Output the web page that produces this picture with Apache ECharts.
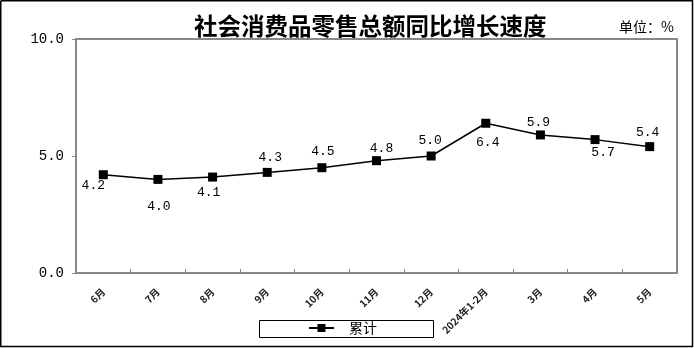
<!DOCTYPE html>
<html><head><meta charset="utf-8">
<script src="https://cdn.jsdelivr.net/npm/echarts@6/dist/echarts.min.js"></script>
<style>html,body{margin:0;padding:0;background:#fff}#c{width:694px;height:348px}</style>
</head><body><div id="c"></div>
<script>
var categories = ['6月','7月','8月','9月','10月','11月','12月','2024年1-2月','3月','4月','5月'];
var values = [4.2, 4.0, 4.1, 4.3, 4.5, 4.8, 5.0, 6.4, 5.9, 5.7, 5.4];
var yTicks = [0, 5, 10];
var seriesName = '累计';
var titleText = '社会消费品零售总额同比增长速度';
var unitText = '单位：%';
// label offsets (style only)
var labelOffsets = [[-10,11],[1,27],[-4,16],[3,-15],[1,-16],[5,-12],[-1,-15],[2,19],[-2,-12],[8,13],[-2,-14]];

var chart = echarts.init(document.getElementById('c'), null, {renderer:'canvas'});
var numFont = '"Liberation Mono", "DejaVu Sans Mono", monospace';
chart.setOption({
  backgroundColor:'#fff',
  animation:false,
  title:{text:titleText,left:189,top:9,textStyle:{fontFamily:'"Noto Sans CJK SC"',fontSize:23.5,fontWeight:'bold',color:'#000'}},
  graphic:[
    {type:'polyline',shape:{points:[[0.75,0.75],[692.5,0.75],[692.5,346.5],[0.75,346.5],[0.75,0.75]]},style:{fill:null,stroke:'#000',lineWidth:1.5},silent:true,z:100},
    {type:'polyline',shape:{points:[[259.5,320.5],[433.5,320.5],[433.5,337.5],[259.5,337.5],[259.5,320.5]]},style:{fill:null,stroke:'#000',lineWidth:1},silent:true,z:100},
    {type:'text',x:619,y:20,style:{text:unitText,font:'14px "Noto Sans CJK SC"',fill:'#000'}}
  ],
  legend:{data:[seriesName],left:308,top:321,orient:'horizontal',padding:0,itemWidth:25,itemHeight:10,itemGap:4,
    textStyle:{fontFamily:'"Noto Sans CJK SC"',fontSize:14,color:'#000',padding:[0,0,0,10]}},
  grid:{left:76,right:17,top:39,bottom:75,show:true,borderColor:'#888',borderWidth:2,backgroundColor:'transparent'},
  xAxis:{type:'category',data:categories,boundaryGap:true,
    axisLine:{show:true,lineStyle:{color:'#888',width:2}},
    axisTick:{show:true,inside:true,length:4,lineStyle:{color:'#888'}},
    axisLabel:{interval:0,rotate:45,margin:17,fontSize:10,fontWeight:'bold',color:'#222',fontFamily:'"Noto Sans CJK SC"'},
    splitLine:{show:false}},
  yAxis:{type:'value',min:yTicks[0],max:yTicks[yTicks.length-1],interval:yTicks[1]-yTicks[0],
    axisLine:{show:true,lineStyle:{color:'#888',width:2}},
    axisTick:{show:true,length:4,lineStyle:{color:'#888'}},
    splitLine:{show:false},
    axisLabel:{margin:12,fontFamily:numFont,fontSize:14,color:'#000',formatter:function(v){return v.toFixed(1);}}},
  series:[{name:seriesName,type:'line',
    data:values.map(function(v,i){return {value:v,label:{offset:labelOffsets[i]}};}),
    symbol:'rect',symbolSize:9,
    lineStyle:{color:'#000',width:1.5},itemStyle:{color:'#000'},
    label:{show:true,position:'inside',fontFamily:numFont,fontSize:13,color:'#000',
      formatter:function(p){return p.value.toFixed(1);}}}]
});
</script></body></html>
